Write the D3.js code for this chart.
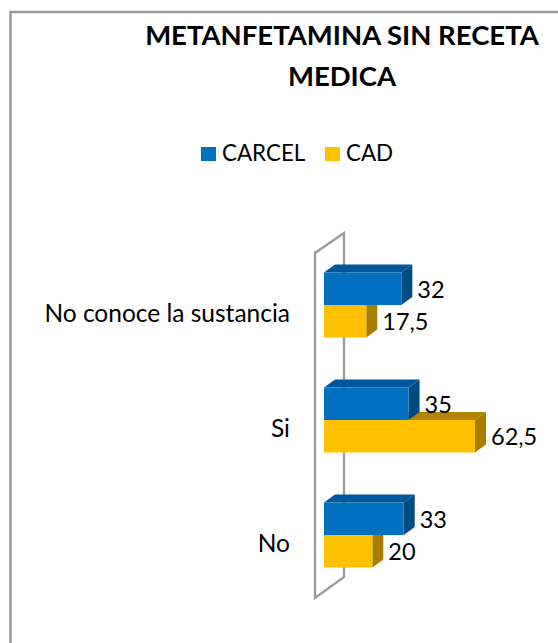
<!DOCTYPE html>
<html>
<head>
<meta charset="utf-8">
<script src="https://cdn.jsdelivr.net/npm/d3@7"></script>
<style>
  body { margin: 0; background: #fff; }
  text { font-family: Lato, "Open Sans", sans-serif; fill: #000; }
</style>
</head>
<body>
<div id="chart"></div>
<script>
const categories = ["No conoce la sustancia", "Si", "No"]
const seriesNames = ["CARCEL", "CAD"]
const carcelValues = [32, 35, 33]
const cadValues = [17.5, 62.5, 20]
const valueLabels = { CARCEL: ["32", "35", "33"], CAD: ["17,5", "62,5", "20"] }
const titleLines = ["METANFETAMINA SIN RECETA", "MEDICA"]

const width = 558, height = 643
const depthX = 11, depthY = 8
const colors = {
  CARCEL: { front: "#0070c0", top: "#00569a", side: "#004b80" },
  CAD: { front: "#ffc000", top: "#b08600", side: "#a87e00" }
}

const svg = d3.select("#chart").append("svg")
  .attr("width", width)
  .attr("height", height)
  .style("display", "block")

// outer frame, runs off the right and bottom of the picture
svg.append("path")
  .attr("d", `M10.5,${height} V12 H${width}`)
  .attr("fill", "none")
  .attr("stroke", "#999")
  .attr("stroke-width", 2.5)

svg.append("g").selectAll("text")
  .data(titleLines)
  .join("text")
  .attr("x", 342)
  .attr("y", (d, i) => 45 + i * 41)
  .attr("text-anchor", "middle")
  .attr("font-size", 27.5)
  .attr("font-weight", 700)
  .text(d => d)

// legend
const legendX = [201, 325]
const legend = svg.append("g").selectAll("g")
  .data(seriesNames)
  .join("g")
  .attr("transform", (d, i) => `translate(${legendX[i]},147)`)
legend.append("rect")
  .attr("width", 15)
  .attr("height", 14)
  .attr("fill", d => colors[d].front)
legend.append("text")
  .attr("x", 21)
  .attr("y", 14)
  .attr("font-size", 22.4)
  .text(d => d)

const x = d3.scaleLinear().domain([0, 62.5]).range([324, 475])
const y = d3.scaleBand()
  .domain(categories)
  .range([247.5, 592.5])
  .paddingInner(50 / 115)
  .paddingOuter(25 / 115)
const ySeries = d3.scaleBand()
  .domain(seriesNames)
  .range([0, y.bandwidth()])

// the slanted wall behind the bars
const wallLeft = x(0) - 9, wallBack = x(0) + 20
svg.append("path")
  .attr("d", `M${wallBack},233 L${wallLeft},253 V598 L${wallBack},577 Z`)
  .attr("fill", "none")
  .attr("stroke", "#9c9c9c")
  .attr("stroke-width", 2.4)

// category labels
const axis = svg.append("g")
  .attr("transform", "translate(290,9)")
  .call(d3.axisLeft(y).tickSize(0).tickPadding(0))
axis.select(".domain").remove()
axis.attr("font-family", null)
axis.selectAll("text").attr("font-size", 24.5)

function drawBar(g, name, value, category) {
  const c = colors[name]
  const x0 = x(0), x1 = x(value)
  const y0 = y(category) + ySeries(name), h = ySeries.bandwidth()
  g.append("path")
    .attr("d", `M${x0},${y0} l${depthX},${-depthY} H${x1 + depthX} L${x1},${y0} Z`)
    .attr("fill", c.top)
  g.append("path")
    .attr("d", `M${x1},${y0} l${depthX},${-depthY} v${h} L${x1},${y0 + h} Z`)
    .attr("fill", c.side)
  g.append("rect")
    .attr("x", x0)
    .attr("y", y0)
    .attr("width", x1 - x0)
    .attr("height", h)
    .attr("fill", c.front)
}

// yellow goes first, the blue bar's side sits on top of the yellow top face
const bars = svg.append("g")
categories.forEach((cat, i) => {
  drawBar(bars, "CAD", cadValues[i], cat)
  drawBar(bars, "CARCEL", carcelValues[i], cat)
})

const labels = svg.append("g")
categories.forEach((cat, i) => {
  seriesNames.forEach(name => {
    const value = name === "CARCEL" ? carcelValues[i] : cadValues[i]
    labels.append("text")
      .attr("x", x(value) + depthX + 5)
      .attr("y", y(cat) + ySeries(name) + ySeries.bandwidth() / 2 + 9)
      .attr("font-size", 23.5)
      .text(valueLabels[name][i])
  })
})
</script>
</body>
</html>
